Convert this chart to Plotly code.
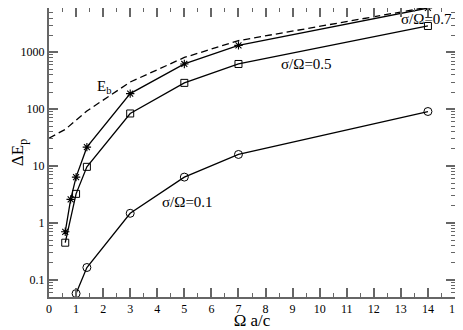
import plotly.graph_objects as go
import math

# Data
x_07 = [0.6, 0.8, 1.0, 1.4, 3, 5, 7, 14]
y_07 = [0.7, 2.6, 6.4, 21.5, 188, 623, 1320, 6000]

x_05 = [0.6, 1.0, 1.4, 3, 5, 7, 14]
y_05 = [0.45, 3.25, 9.7, 84, 290, 623, 2900]

x_01 = [1.0, 1.4, 3, 5, 7, 14]
y_01 = [0.0575, 0.165, 1.48, 6.4, 16.0, 91]

x_eb = [0, 0.6, 1.4, 3, 5, 7, 14]
y_eb = [31, 44, 93, 300, 810, 1600, 6200]

y_tickvals = [0.1, 1, 10, 100, 1000]
y_ticktext = ["0.1", "1", "10", "100", "1000"]

FONT = "Liberation Serif, 'Times New Roman', Times, serif"
AX = "#666666"

fig = go.Figure()

fig.add_trace(go.Scatter(x=x_eb, y=y_eb, mode="lines", cliponaxis=False,
                         line=dict(color="black", width=1.3, dash="7px,4px"),
                         showlegend=False))
fig.add_trace(go.Scatter(x=x_07, y=y_07, mode="lines+markers", cliponaxis=False,
                         line=dict(color="black", width=1.3),
                         marker=dict(symbol="asterisk-open", size=7,
                                     line=dict(color="black", width=1.1)),
                         showlegend=False))
fig.add_trace(go.Scatter(x=x_05, y=y_05, mode="lines+markers", cliponaxis=False,
                         line=dict(color="black", width=1.3),
                         marker=dict(symbol="square-open", size=7, color="black",
                                     line=dict(color="black", width=1)),
                         showlegend=False))
fig.add_trace(go.Scatter(x=x_01, y=y_01, mode="lines+markers", cliponaxis=False,
                         line=dict(color="black", width=1.3),
                         marker=dict(symbol="circle-open", size=8, color="black",
                                     line=dict(color="black", width=1)),
                         showlegend=False))

ann_font = dict(family=FONT, size=15, color="black")
fig.add_annotation(x=2.05, y=math.log10(250), text="E<sub>b</sub>", showarrow=False,
                   font=ann_font, xanchor="center", yanchor="middle")
fig.add_annotation(x=14.98, y=math.log10(3800), text="σ/Ω=0.7", showarrow=False,
                   font=ann_font, xanchor="right", yanchor="middle")
fig.add_annotation(x=9.5, y=math.log10(617), text="σ/Ω=0.5", showarrow=False,
                   font=ann_font, xanchor="center", yanchor="middle")
fig.add_annotation(x=5.1, y=math.log10(2.3), text="σ/Ω=0.1", showarrow=False,
                   font=ann_font, xanchor="center", yanchor="middle")

fig.update_xaxes(range=[0, 15], dtick=1, tick0=0, automargin=False,
                 showgrid=False, zeroline=False,
                 showline=True, linecolor=AX, linewidth=2, mirror="allticks",
                 ticks="inside", ticklen=9, tickwidth=1.5, tickcolor=AX,
                 minor=dict(dtick=0.5, ticks="inside", ticklen=4, tickcolor=AX, tickwidth=1.2),
                 tickfont=dict(family=FONT, size=12, color="black"),
                 title=dict(text="Ω a/c", font=dict(family=FONT, size=17, color="black"),
                            standoff=8))
fig.update_yaxes(type="log", range=[math.log10(0.05), math.log10(6000)], automargin=False,
                 tickvals=y_tickvals, ticktext=y_ticktext,
                 showgrid=False, zeroline=False,
                 showline=True, linecolor=AX, linewidth=2, mirror="allticks",
                 ticks="inside", ticklen=9, tickwidth=1.5, tickcolor=AX,
                 minor=dict(ticks="inside", ticklen=4, tickcolor=AX, tickwidth=1.2, dtick="D1"),
                 tickfont=dict(family=FONT, size=12, color="black"),
                 title=dict(text="ΔE<sub>p</sub>", font=dict(family=FONT, size=17, color="black"),
                            standoff=2))

# the page adds an 8px body margin, so the figure is sized and offset to compensate
fig.update_layout(width=455, height=322,
                  margin=dict(l=41, r=8, t=0, b=33),
                  paper_bgcolor="white", plot_bgcolor="white")

fig.write_html("out.html")
